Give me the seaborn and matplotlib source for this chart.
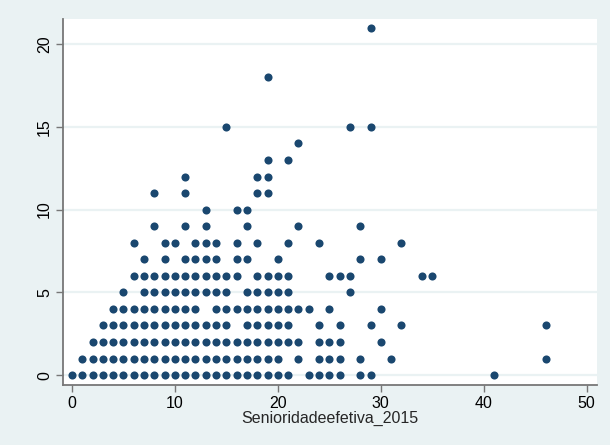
import matplotlib
matplotlib.use("Agg")
import matplotlib.pyplot as plt
import seaborn as sns
import pandas as pd

# x values (Senioridadeefetiva_2015) observed at each y level
row_y0 = [0, 1, 2, 3, 4, 5, 6, 7, 8, 9, 10, 11, 12, 13, 14, 15, 16, 17, 18, 19, 20, 21, 23, 24, 25, 26, 28, 29, 41]
row_y1 = [1, 2, 3, 4, 5, 6, 7, 8, 9, 10, 11, 12, 13, 14, 15, 16, 17, 18, 19, 20, 22, 24, 25, 26, 28, 31, 46]
row_y2 = [2, 3, 4, 5, 6, 7, 8, 9, 10, 11, 12, 13, 14, 15, 16, 17, 18, 19, 20, 21, 22, 24, 25, 26, 30]
row_y3 = [3, 4, 5, 6, 7, 8, 9, 10, 11, 12, 13, 14, 15, 17, 18, 19, 20, 21, 24, 26, 29, 32, 46]
row_y4 = [4, 5, 6, 7, 8, 9, 10, 11, 12, 14, 15, 16, 17, 18, 19, 20, 21, 22, 23, 25, 30]
row_y5 = [5, 7, 8, 9, 10, 11, 12, 13, 14, 15, 17, 18, 19, 20, 21, 27]
row_y6 = [6, 7, 8, 9, 10, 11, 12, 13, 14, 15, 16, 18, 19, 20, 21, 25, 26, 27, 34, 35]
row_y7 = [7, 9, 11, 12, 13, 14, 16, 17, 20, 28, 30]
row_y8 = [6, 9, 10, 12, 13, 14, 16, 18, 21, 24, 32]
row_y9 = [8, 11, 13, 17, 22, 28]
row_y10 = [13, 16, 17]
row_y11 = [8, 11, 18, 19]
row_y12 = [11, 18, 19]
row_y13 = [19, 21]
row_y14 = [22]
row_y15 = [15, 27, 29]
row_y18 = [19]
row_y21 = [29]

rows = {0: row_y0, 1: row_y1, 2: row_y2, 3: row_y3, 4: row_y4, 5: row_y5,
        6: row_y6, 7: row_y7, 8: row_y8, 9: row_y9, 10: row_y10, 11: row_y11,
        12: row_y12, 13: row_y13, 14: row_y14, 15: row_y15, 18: row_y18, 21: row_y21}

x_ticks = [0, 10, 20, 30, 40, 50]
y_ticks = [0, 5, 10, 15, 20]
x_label = "Senioridadeefetiva_2015"

recs = [(xv, yv) for yv, xs in rows.items() for xv in xs]
df = pd.DataFrame(recs, columns=["x", "y"])

sns.set_style("white")
plt.rcParams['font.family'] = ['Liberation Sans', 'DejaVu Sans']

BG = "#eaf2f3"
NAVY = "#1a476f"

fig = plt.figure(figsize=(6.1, 4.45), dpi=100, facecolor=BG)
ax = fig.add_axes([63 / 610, 1 - 385 / 445, (597 - 63) / 610, (385 - 19) / 445])
ax.set_facecolor("white")

for t in y_ticks:
    ax.axhline(t, color=BG, lw=1.6, zorder=0)

sns.scatterplot(data=df, x="x", y="y", ax=ax, color=NAVY, s=34,
                linewidth=0, edgecolor=NAVY, zorder=3)

ax.set_xlim(-0.87, 51.0)
ax.set_ylim(-0.6, 21.52)
ax.set_xticks(x_ticks)
ax.set_yticks(y_ticks)
ax.set_xticklabels([str(t) for t in x_ticks], fontsize=11.5)
ax.set_yticklabels([str(t) for t in y_ticks], fontsize=11.5, rotation=90, va="center")
ax.set_xlabel(x_label, fontsize=11.5, labelpad=0)
ax.set_ylabel("")

for side in ["top", "right"]:
    ax.spines[side].set_visible(False)
for side in ["left", "bottom"]:
    ax.spines[side].set_color("#777777")
    ax.spines[side].set_linewidth(1.3)

ax.tick_params(axis="both", direction="out", length=5, width=1, color="#777777",
               labelcolor="black", pad=3)
ax.tick_params(axis="x", bottom=True)
ax.tick_params(axis="y", left=True)

fig.savefig("out.png", dpi=100, facecolor=BG)
